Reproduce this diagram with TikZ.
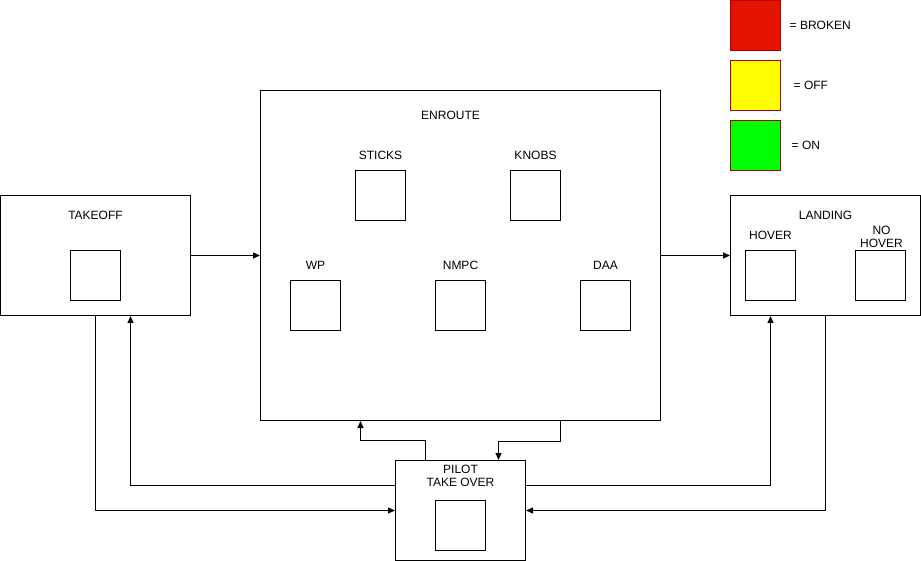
\documentclass[tikz,border=0pt]{standalone}
\usepackage{fontspec}
\setmainfont{Liberation Sans}
\usetikzlibrary{arrows.meta}
\definecolor{brokenred}{HTML}{E51400}
\definecolor{legendedge}{HTML}{B20000}
\definecolor{offyellow}{HTML}{FFFF00}
\definecolor{ongreen}{HTML}{00FF00}
\begin{document}
\begin{tikzpicture}[x=1pt,y=-1pt,
  every node/.style={font=\fontsize{12}{14}\selectfont},
  box/.style={draw=black,line width=1pt,rectangle,inner sep=0pt},
  state/.style={box,minimum width=50pt,minimum height=50pt},
  legendbox/.style={draw=legendedge,line width=1pt,rectangle,inner sep=0pt,minimum width=50pt,minimum height=50pt},
  lbl/.style={inner sep=0pt,align=center},
  conn/.style={line width=1pt,-{Triangle[length=7pt,width=6pt]}}]
\useasboundingbox (-0.5,-0.5) rectangle (920.5,560.5);
% legend
\node[legendbox,fill=brokenred] (lred) at (755,25) {};
\node[legendbox,fill=offyellow] (lyellow) at (755,85) {};
\node[legendbox,fill=ongreen] (lgreen) at (755,145) {};
\node[lbl,anchor=west] (tred) at (789,25) {= BROKEN};
\node[lbl,anchor=west] (tyellow) at (793,85) {= OFF};
\node[lbl,anchor=west] (tgreen) at (791,145) {= ON};
% takeoff
\node[box,minimum width=190pt,minimum height=120pt] (takeoff) at (95,255) {};
\node[lbl] (takeofflbl) at (95,215) {TAKEOFF};
\node[state] (takeoffst) at (95,275) {};
% enroute
\node[box,minimum width=400pt,minimum height=330pt] (enroute) at (460,255) {};
\node[lbl] (enroutelbl) at (450,115) {ENROUTE};
\node[lbl] (stickslbl) at (380,155) {STICKS};
\node[state] (sticks) at (380,195) {};
\node[lbl] (knobslbl) at (535,155) {KNOBS};
\node[state] (knobs) at (535,195) {};
\node[lbl] (wplbl) at (315,265) {WP};
\node[state] (wp) at (315,305) {};
\node[lbl] (nmpclbl) at (460,265) {NMPC};
\node[state] (nmpc) at (460,305) {};
\node[lbl] (daalbl) at (605,265) {DAA};
\node[state] (daa) at (605,305) {};
% landing
\node[box,minimum width=190pt,minimum height=120pt] (landing) at (825,255) {};
\node[lbl] (landinglbl) at (825,215) {LANDING};
\node[lbl] (hoverlbl) at (770,235) {HOVER};
\node[state] (hover) at (770,275) {};
\node[lbl] (nohoverlbl) at (881,236) {NO\\[-1pt]HOVER};
\node[state] (nohover) at (880,275) {};
% pilot
\node[box,minimum width=130pt,minimum height=100pt] (pilot) at (460,510) {};
\node[lbl] (pilotlbl) at (460,475) {PILOT\\[-1pt]TAKE OVER};
\node[state] (pilotst) at (460,525) {};
% connectors
\draw[conn] (takeoff.east) -- (enroute.west);
\draw[conn] (enroute.east) -- (landing.west);
\draw[conn] (takeoff.south) |- (pilot.west);
\draw[conn] ([yshift=25pt]pilot.west) -| ([xshift=35pt]takeoff.south);
\draw[conn] ([yshift=25pt]pilot.east) -| ([xshift=-55pt]landing.south);
\draw[conn] (landing.south) |- (pilot.east);
\draw[conn] ([xshift=-35pt]pilot.north) -- ++(0,-20) -| ([xshift=-100pt]enroute.south);
\draw[conn] ([xshift=100pt]enroute.south) -- ++(0,20) -| ([xshift=38pt]pilot.north);
\end{tikzpicture}
\end{document}
